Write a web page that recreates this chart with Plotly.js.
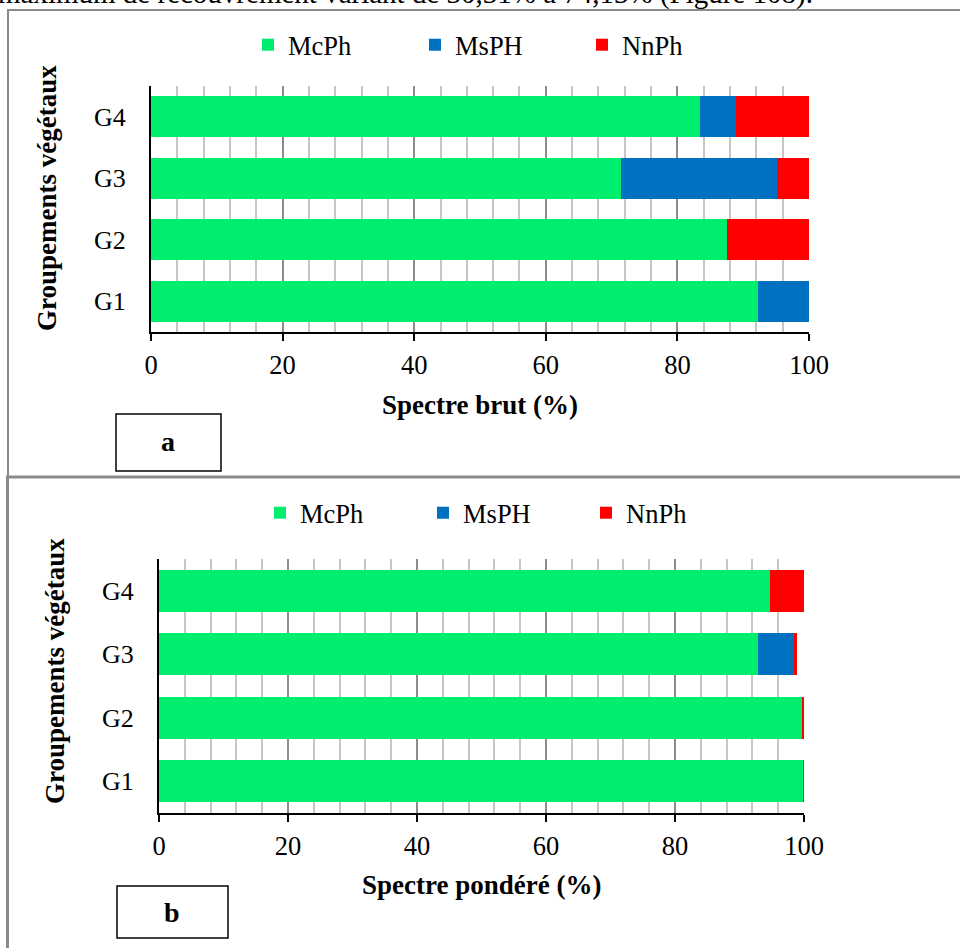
<!DOCTYPE html>
<html>
<head>
<meta charset="utf-8">
<script src="https://cdn.plot.ly/plotly-3.0.1.min.js"></script>
<style>
  html, body { margin: 0; padding: 0; background: #fff; }
  #chart { width: 960px; height: 948px; }
</style>
</head>
<body>
<div id="chart"></div>
<script>
// ---- Data ----
const groups = ['G1', 'G2', 'G3', 'G4'];
const seriesNames = ['McPh', 'MsPH', 'NnPh'];
// Spectre brut (%)
const brutMcPh = [92.3, 87.5, 71.4, 83.4];
const brutMsPH = [7.7, 0, 23.8, 5.5];
const brutNnPh = [0, 12.5, 4.8, 11.1];
// Spectre pondéré (%)
const pondMcPh = [99.95, 99.7, 92.8, 94.7];
const pondMsPH = [0.05, 0, 5.6, 0];
const pondNnPh = [0, 0.3, 0.5, 5.3];
const xTicks = [0, 20, 40, 60, 80, 100];

// ---- Styling ----
const W = 960, H = 948;
const colors = ['#00EE6E', '#0070C0', '#FF0000'];
const FONT = 'Liberation Serif, Times New Roman, serif';
const px = x => x / W;
const py = y => 1 - y / H;

const brut = [brutMcPh, brutMsPH, brutNnPh];
const pond = [pondMcPh, pondMsPH, pondNnPh];

const traces = [];
seriesNames.forEach((n, i) => {
  traces.push({
    type: 'bar', orientation: 'h', name: n, x: brut[i], y: groups,
    xaxis: 'x', yaxis: 'y', legend: 'legend',
    marker: { color: colors[i], line: { width: 0 } }, hoverinfo: 'x+y+name'
  });
});
seriesNames.forEach((n, i) => {
  traces.push({
    type: 'bar', orientation: 'h', name: n, x: pond[i], y: groups,
    xaxis: 'x2', yaxis: 'y2', legend: 'legend2',
    marker: { color: colors[i], line: { width: 0 } }, hoverinfo: 'x+y+name'
  });
});

function xAxis(domain, anchor) {
  return {
    domain: domain, anchor: anchor, range: [0, 100], tickvals: xTicks,
    showgrid: true, gridcolor: '#8c8c8c', gridwidth: 2,
    minor: { dtick: 4, showgrid: true, gridcolor: '#c6c6c6', gridwidth: 2, ticks: '' },
    showline: true, linecolor: '#000', linewidth: 2,
    ticks: 'outside', ticklen: 7, tickwidth: 2, tickcolor: '#000',
    ticklabelstandoff: 1,
    zeroline: false, automargin: false, fixedrange: true,
    tickfont: { family: FONT, size: 26.5, color: '#000' }
  };
}
function yAxis(domain, anchor) {
  return {
    domain: domain, anchor: anchor, type: 'category',
    categoryorder: 'array', categoryarray: groups, range: [-0.5, 3.5],
    showgrid: false, showline: true, linecolor: '#000', linewidth: 2,
    ticks: '', ticklabelstandoff: 18, zeroline: false, automargin: false, fixedrange: true,
    tickfont: { family: FONT, size: 26, color: '#000' }
  };
}

function legendCfg(x, y, ew) {
  return {
    orientation: 'h', x: px(x), xanchor: 'left', y: py(y), yanchor: 'middle',
    font: { family: FONT, size: 26.5, color: '#000' },
    bgcolor: 'rgba(0,0,0,0)', borderwidth: 0,
    entrywidth: ew, entrywidthmode: 'pixels', traceorder: 'normal',
    itemclick: false, itemdoubleclick: false
  };
}

const gray = '#8a8a8a';
const shapes = [
  // panel frames
  { type: 'rect', xref: 'paper', yref: 'paper', x0: px(8), x1: px(980), y0: py(477), y1: py(10),
    line: { color: gray, width: 2 } },
  { type: 'rect', xref: 'paper', yref: 'paper', x0: px(7.5), x1: px(980), y0: py(980), y1: py(477),
    line: { color: gray, width: 3 } },
  // label boxes
  { type: 'rect', xref: 'paper', yref: 'paper', x0: px(116), x1: px(221), y0: py(471), y1: py(414),
    line: { color: '#000', width: 1.5 } },
  { type: 'rect', xref: 'paper', yref: 'paper', x0: px(117), x1: px(228), y0: py(938), y1: py(886),
    line: { color: '#000', width: 1.5 } }
];

function ann(text, x, y, opts) {
  return Object.assign({
    text: text, xref: 'paper', yref: 'paper', x: px(x), y: py(y),
    xanchor: 'center', yanchor: 'middle', showarrow: false,
    font: { family: FONT, size: 27, color: '#000' }
  }, opts || {});
}

const annotations = [
  ann('maximum de recouvrement variant de 30,31% à 74,13% (Figure 108).', -4, -6,
      { xanchor: 'left', font: { family: FONT, size: 29, color: '#000' } }),
  ann('<b>Spectre brut (%)</b>', 480, 405),
  ann('<b>Spectre pondéré (%)</b>', 481, 885),
  ann('<b>Groupements végétaux</b>', 47, 198, { textangle: -90 }),
  ann('<b>Groupements végétaux</b>', 55, 671, { textangle: -90 }),
  ann('<b>a</b>', 168, 442, { font: { family: FONT, size: 28, color: '#000' } }),
  ann('<b>b</b>', 172, 912, { font: { family: FONT, size: 28, color: '#000' } })
];

const layout = {
  width: W, height: H,
  margin: { l: 0, r: 0, t: 0, b: 0 },
  paper_bgcolor: '#fff', plot_bgcolor: '#fff',
  barmode: 'stack', bargap: 0.333,
  showlegend: true,
  xaxis: xAxis([px(151), px(809)], 'y'),
  yaxis: yAxis([py(332), py(86)], 'x'),
  xaxis2: xAxis([px(159), px(804)], 'y2'),
  yaxis2: yAxis([py(813), py(559)], 'x2'),
  legend: legendCfg(248, 45, 122),
  legend2: legendCfg(260, 513, 118),
  shapes: shapes,
  annotations: annotations,
  font: { family: FONT, color: '#000' }
};

Plotly.newPlot('chart', traces, layout, { displayModeBar: false, staticPlot: false });
</script>
</body>
</html>
